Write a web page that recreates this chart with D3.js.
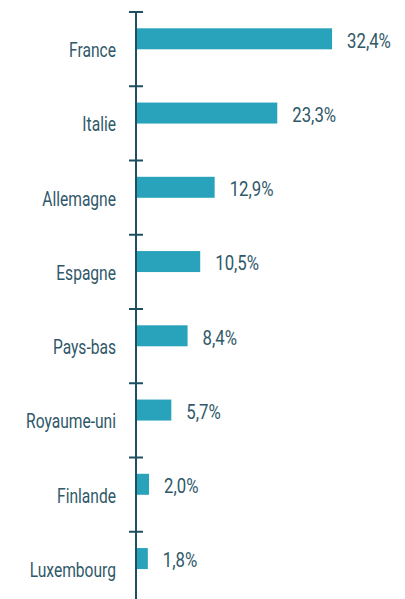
<!DOCTYPE html>
<html>
<head>
<meta charset="utf-8">
<script src="https://cdn.jsdelivr.net/npm/d3@7"></script>
<style>
  html, body { margin: 0; padding: 0; background: #ffffff; }
  svg { display: block; }
  text { font-family: Roboto, "Noto Sans", sans-serif; }
</style>
</head>
<body>
<svg id="chart" width="405" height="599"></svg>
<script>
const categories = ["France", "Italie", "Allemagne", "Espagne", "Pays-bas", "Royaume-uni", "Finlande", "Luxembourg"];
const values = [32.4, 23.3, 12.9, 10.5, 8.4, 5.7, 2.0, 1.8];
const valueLabels = ["32,4%", "23,3%", "12,9%", "10,5%", "8,4%", "5,7%", "2,0%", "1,8%"];

const W = 405, H = 599;
const axisX = 136;
const svg = d3.select("#chart");

const y = d3.scaleBand().domain(categories).range([12, 12 + 74.25 * categories.length]).paddingInner(0).paddingOuter(0);
const x = d3.scaleLinear().domain([0, 35]).range([137, 137 + 35 * 6.02]);

const data = categories.map((c, i) => ({ c, v: values[i], lab: valueLabels[i] }));

const textColor = "#2f5869";
const axisColor = "#1e4f60";
const barColor = "#29a3bb";

// axis line
svg.append("line")
  .attr("x1", axisX).attr("x2", axisX)
  .attr("y1", y.range()[0]).attr("y2", H)
  .attr("stroke", axisColor).attr("stroke-width", 2);

// ticks at band boundaries
svg.selectAll("line.tick").data(categories)
  .join("line").attr("class", "tick")
  .attr("x1", 129).attr("x2", 143)
  .attr("y1", d => y(d)).attr("y2", d => y(d))
  .attr("stroke", axisColor).attr("stroke-width", 2);

// bars
svg.selectAll("rect.bar").data(data)
  .join("rect").attr("class", "bar")
  .attr("x", x(0))
  .attr("y", d => y(d.c) + 16.3)
  .attr("width", d => x(d.v) - x(0))
  .attr("height", 21)
  .attr("fill", barColor);

// category labels (condensed look)
svg.selectAll("text.cat").data(data)
  .join("text").attr("class", "cat")
  .attr("transform", d => `translate(116,${y(d.c) + 45}) scale(0.8,1)`)
  .attr("text-anchor", "end")
  .attr("font-size", 19.5)
  .attr("fill", textColor)
  .text(d => d.c);

// value labels
svg.selectAll("text.val").data(data)
  .join("text").attr("class", "val")
  .attr("transform", d => `translate(${x(d.v) + 15},${y(d.c) + 35.5}) scale(0.86,1)`)
  .attr("font-size", 19.5)
  .attr("fill", textColor)
  .text(d => d.lab);
</script>
</body>
</html>
